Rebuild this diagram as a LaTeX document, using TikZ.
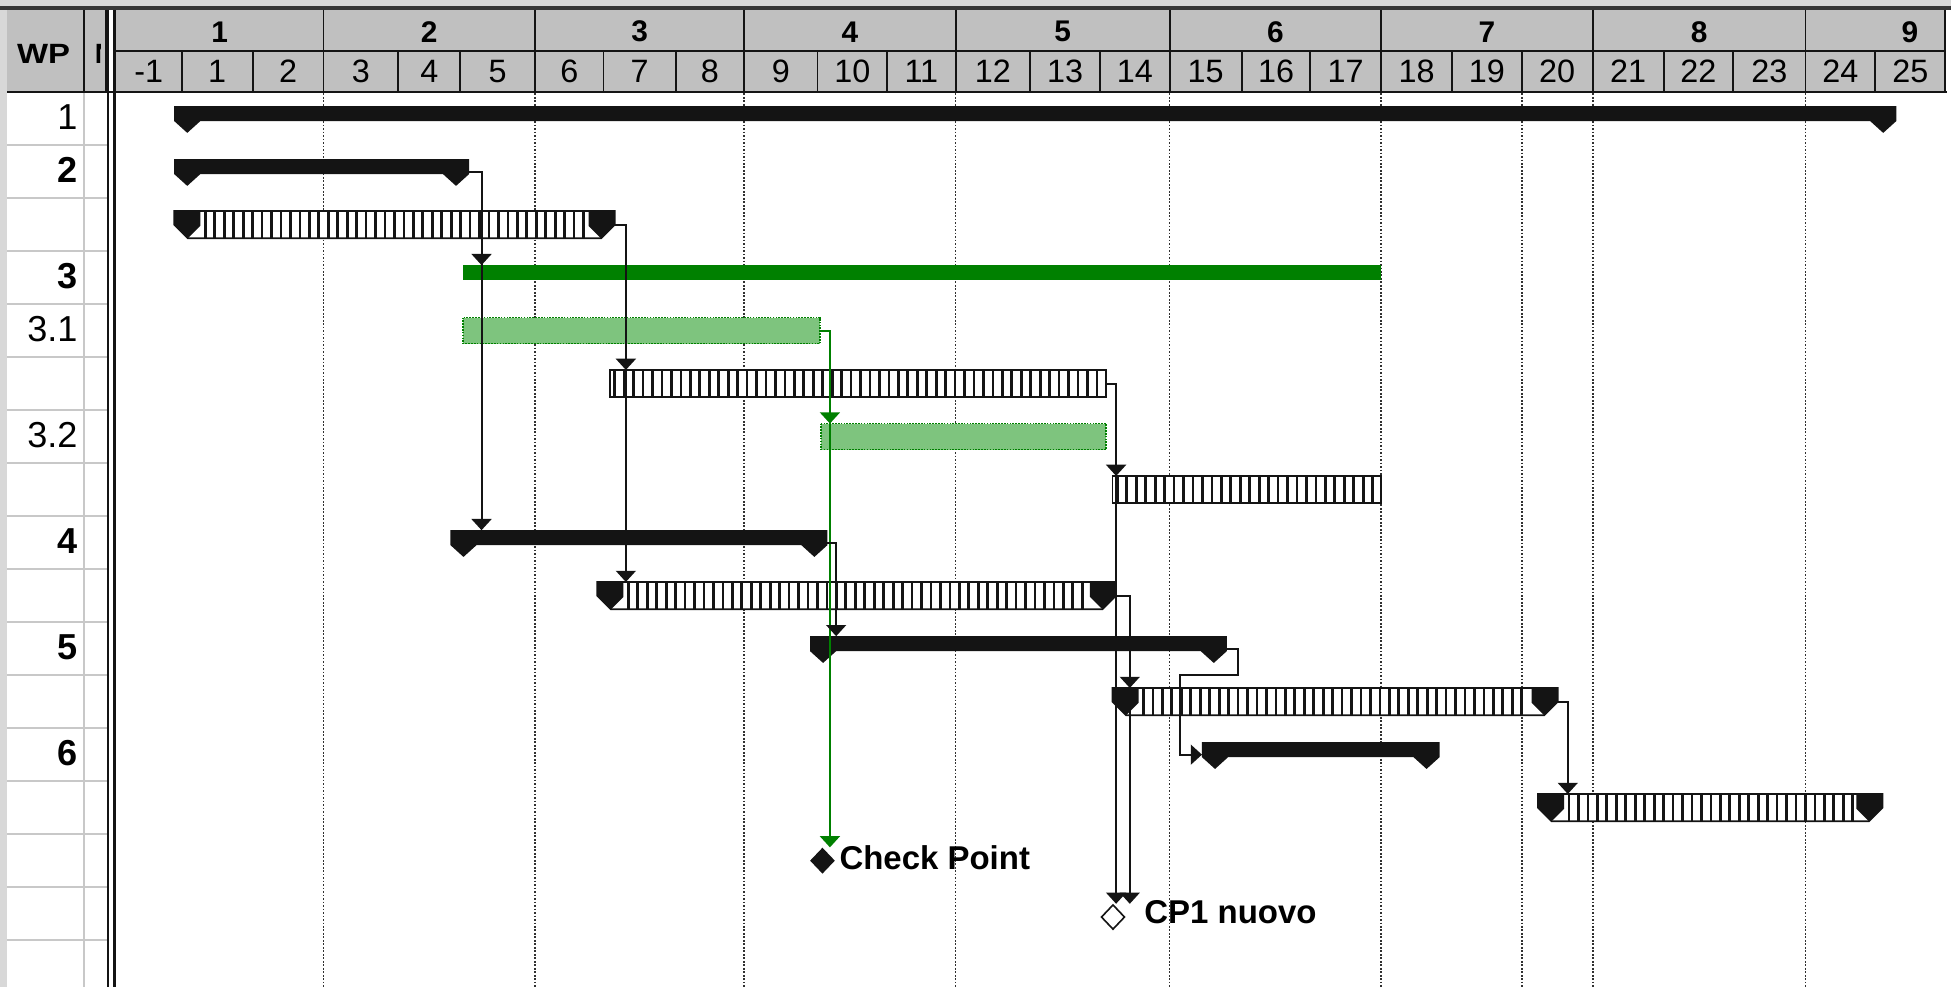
\documentclass[tikz,border=0pt]{standalone}
\usepackage{fontspec}
\usepackage{graphicx}
\setmainfont{Liberation Sans}
\usetikzlibrary{arrows.meta,shapes.geometric,calc}
\definecolor{hdrgray}{HTML}{C0C0C0}
\definecolor{edgegray}{HTML}{D8D8D8}
\definecolor{rowline}{HTML}{C8C8C8}
\definecolor{gdark}{HTML}{008000}
\definecolor{glight}{HTML}{7EC47E}
\definecolor{ink}{HTML}{141414}
\definecolor{gridc}{HTML}{303030}

\newcommand\SumBar[4]{%
  \fill[ink] (#2,#4-10) -- (#3,#4-10) -- (#3,#4+2) -- (#3-10.5,#4+11.5) -- (#3-21,#4+2) -- (#2+21,#4+2) -- (#2+10.5,#4+11.5) -- (#2,#4+2) -- cycle;
  \coordinate (#1-s) at (#2,#4);
  \coordinate (#1-e) at (#3,#4);
  \coordinate (#1-t) at (#2,#4-10);}

\newcommand\PlainHatch[4]{%
  \fill[white] (#2,#4-11) rectangle (#3,#4+11);
  \pgfmathtruncatemacro\hn{(#3-#2-6)/7.6}%
  \foreach \k in {0,...,\hn} \draw[ink,line width=2.2pt] (#2+4+7.6*\k,#4-11) -- (#2+4+7.6*\k,#4+11);
  \draw[ink,line width=1.4pt] (#2,#4-11) rectangle (#3,#4+11);
  \coordinate (#1-s) at (#2,#4);
  \coordinate (#1-e) at (#3,#4);
  \coordinate (#1-t) at (#2,#4-11);}

\newcommand\CapHatch[4]{%
  \fill[white] (#2,#4-11) -- (#3,#4-11) -- (#3,#4) -- (#3-11,#4+11) -- (#2+11,#4+11) -- (#2,#4) -- cycle;
  \pgfmathtruncatemacro\hn{(#3-#2-48)/7.6}%
  \foreach \k in {0,...,\hn} \draw[ink,line width=2.2pt] (#2+25+7.6*\k,#4-11) -- (#2+25+7.6*\k,#4+11);
  \draw[ink,line width=1.4pt] (#2,#4-11) -- (#3,#4-11) -- (#3,#4) -- (#3-11,#4+11) -- (#2+11,#4+11) -- (#2,#4) -- cycle;
  \fill[ink] (#2,#4-11) -- (#2+21,#4-11) -- (#2+21,#4+1) -- (#2+11,#4+11) -- (#2,#4) -- cycle;
  \fill[ink] (#3,#4-11) -- (#3-21,#4-11) -- (#3-21,#4+1) -- (#3-11,#4+11) -- (#3,#4) -- cycle;
  \coordinate (#1-s) at (#2,#4);
  \coordinate (#1-e) at (#3,#4);
  \coordinate (#1-t) at (#2,#4-11);}

\newcommand\GTask[4]{%
  \fill[glight] (#2,#4-10.5) rectangle (#3,#4+10.5);
  \draw[gdark,line width=1.3pt,densely dotted] (#2,#4-10.5) rectangle (#3,#4+10.5);
  \coordinate (#1-s) at (#2,#4);
  \coordinate (#1-e) at (#3,#4);
  \coordinate (#1-t) at (#2,#4-10.5);}

\tikzset{
  conn/.style={draw=ink, line width=1.6pt, -{Triangle[width=16pt,length=9pt]}},
  gconn/.style={conn, draw=gdark},
  gridln/.style={draw=gridc, line width=1.4pt, dash pattern=on 1.4pt off 1.4pt},
  hdrline/.style={draw=ink, line width=1.5pt},
  mon/.style={font=\fontsize{24}{24}\selectfont\bfseries, inner sep=0pt},
  dayl/.style={font=\fontsize{26}{26}\selectfont, inner sep=0pt},
  wpb/.style={font=\fontsize{29}{29}\selectfont\bfseries, anchor=east, inner sep=0pt},
  wpr/.style={font=\fontsize{29}{29}\selectfont, anchor=east, inner sep=0pt},
  cpl/.style={font=\fontsize{26.5}{26.5}\selectfont\bfseries, anchor=base west, inner sep=0pt},
  hdrb/.style={font=\fontsize{22.4}{22.4}\selectfont\bfseries, inner sep=0pt},
}

\begin{document}
\begin{tikzpicture}[x=1pt,y=-1pt]
\useasboundingbox (0,0) rectangle (1568,793);
\fill[white] (0,0) rectangle (1568,793);
% window edges
\fill[edgegray] (0,0) rectangle (1568,5);
\fill[edgegray] (0,0) rectangle (6,793);
\fill[ink!85] (0,5) rectangle (1568,8);

% header backgrounds
\fill[hdrgray] (6,8) rectangle (85,74);
\fill[hdrgray] (93,8) rectangle (1563.5,74);

% left column body lines
\foreach \ry in {116.6,159.2,201.8,244.4,287,329.6,372.2,414.8,457.4,500,542.6,585.2,627.8,670.4,713,755.6}
  \draw[rowline,line width=1.6pt] (6,\ry) -- (86,\ry);
\draw[rowline,line width=1.6pt] (67.5,74) -- (67.5,793);

% header lines
\draw[hdrline] (93,41) -- (1563.5,41);
\foreach \xb in {146,203,320,370,485,543,657,713,828,884,998,1053,1167,1223,1337,1393,1507}
  \draw[hdrline] (\xb,41) -- (\xb,74);
\foreach \xb in {260,430,598,768,940,1110,1280,1451,1563.5}
  \draw[hdrline] (\xb,8) -- (\xb,74);
\draw[hdrline] (67.5,8) -- (67.5,74);
\draw[hdrline] (85,8) -- (85,74);
\draw[ink,line width=2.2pt] (6,74) -- (1565,74);
\draw[ink,line width=1.8pt] (87,8) -- (87,793);
\draw[ink,line width=1.8pt] (92,8) -- (92,793);

% header texts
\node[hdrb] (wp) at (35,43) {\scalebox{1.18}[1]{WP}};
\begin{scope}
  \clip (68,8) rectangle (80.5,74);
  \node[hdrb, anchor=west] (nm) at (76,43) {N};
\end{scope}
\foreach \lab/\xc [count=\i] in {1/176.5,2/345,3/514,4/683,5/854,6/1025,7/1195,8/1365.5,9/1535}
  \node[mon] (m\i) at (\xc,25.5) {\lab};
\foreach \lab/\xc [count=\i] in {-1/119.5,1/174.5,2/231.5,3/290,4/345,5/400,6/457.5,7/514,8/570.5,9/627.5,10/685,11/740.5,12/798,13/856,14/912,15/969,16/1025.5,17/1081.5,18/1138.5,19/1195,20/1251.5,21/1308.5,22/1365,23/1422,24/1479,25/1535.25}
  \node[dayl] (d\i) at (\xc,57.5) {\lab};

% row labels
\node[wpr] (r1) at (62.5,94.3) {1};
\node[wpb] (r2) at (62.5,136.9) {2};
\node[wpb] (r3) at (62.5,222.1) {3};
\node[wpr] (r31) at (62.5,264.7) {3.1};
\node[wpr] (r32) at (62.5,349.9) {3.2};
\node[wpb] (r4) at (62.5,435.1) {4};
\node[wpb] (r5) at (62.5,520.3) {5};
\node[wpb] (r6) at (62.5,605.5) {6};

% dotted grid
\foreach \xg in {260,430,598,768,940,1110,1223,1280,1451}
  \draw[gridln] (\xg,75) -- (\xg,793);

% bars
\SumBar{b1}{140}{1524}{95.3}
\SumBar{b2}{140}{377}{137.9}
\CapHatch{b2h}{140}{494}{180.5}
\fill[gdark] (372,213.1) rectangle (1110,225.1);
\coordinate (b3-t) at (372,213.1);
\GTask{b31}{372}{659}{265.7}
\PlainHatch{t5}{490}{889}{308.3}
\GTask{b32}{660}{889}{350.9}
\PlainHatch{t7}{894}{1110}{393.5}
\SumBar{b4}{362}{665}{436.1}
\CapHatch{t9}{480}{897}{478.7}
\SumBar{b5}{651}{986}{521.3}
\CapHatch{t11}{894}{1252}{563.9}
\SumBar{b6}{966}{1157}{606.5}
\CapHatch{t13}{1236}{1513}{649.1}

% milestones
\node[diamond, aspect=1, fill=ink, inner sep=0pt, minimum width=20pt, minimum height=21pt] (cp) at (661,691.7) {};
\node[diamond, aspect=1, fill=white, draw=ink, line width=1.3pt, inner sep=0pt, minimum width=19pt, minimum height=20pt] (cp1) at (894.5,737) {};
\node[cpl] (cpt) at (674.5,698.5) {Check Point};
\node[cpl] (cp1t) at (919.5,742.5) {CP1 nuovo};

% connectors
\draw[conn] (b2-e) -- ++(10,0) coordinate (k1) -- (k1 |- b3-t);
\draw[conn] (b2-e) -- (k1) -- (k1 |- b4-t);
\draw[conn] (b2h-e) -- ++(9,0) coordinate (k2) -- (k2 |- t5-t);
\draw[conn] (b2h-e) -- (k2) -- (k2 |- t9-t);
\draw[gconn] (b31-e) -- ++(8,0) coordinate (k3) -- (k3 |- b32-t);
\draw[gconn] (b31-e) -- (k3) -- (k3 |- cp.north);
\draw[conn] (t5-e) -- ++(8,0) coordinate (k4) -- (k4 |- t7-t);
\draw[conn] (t5-e) -- (k4) -- (k4 |- cp1.north);
\draw[conn] (b4-e) -- ++(7,0) coordinate (k5) -- (k5 |- b5-t);
\draw[conn] (t9-e) -- ++(11,0) coordinate (k6) -- (k6 |- t11-t);
\draw[conn] (t9-e) -- (k6) -- (k6 |- cp1.north);
\draw[conn] (b5-e) -- ++(9,0) -- ++(0,21) -| ([xshift=-18pt]b6-s) -- (b6-s);
\draw[conn] (t11-e) -- ++(8,0) coordinate (k7) -- (k7 |- t13-t);
\end{tikzpicture}
\end{document}
